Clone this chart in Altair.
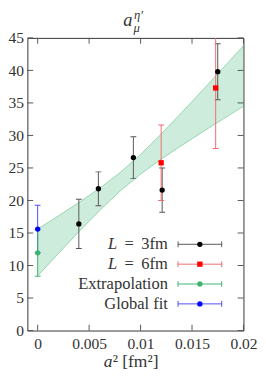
import altair as alt
import pandas as pd

# ---------------- data ----------------
x_L3 = [0.0040, 0.0059, 0.0093, 0.0121, 0.0175]
y_L3 = [16.4, 21.8, 26.6, 21.6, 39.8]
e_L3 = [3.8, 2.6, 3.2, 3.4, 4.3]

x_L6 = [0.0120, 0.0173]
y_L6 = [25.8, 37.3]
e_L6 = [5.8, 9.3]

x_ext = [0.0]
y_ext = [11.95]
e_ext = [3.6]

x_glob = [0.0]
y_glob = [15.6]
e_glob = [3.65]

band_x = [0.0, 0.002, 0.004, 0.006, 0.008, 0.010, 0.012, 0.014, 0.016, 0.018, 0.020]
band_lo = [8.4, 11.81, 15.18, 18.42, 21.44, 24.06, 26.35, 28.47, 30.51, 32.51, 34.49]
band_hi = [15.6, 17.61, 19.68, 21.86, 24.28, 27.08, 30.21, 33.53, 36.91, 40.35, 43.79]

x_ticks = [0, 0.005, 0.01, 0.015, 0.02]
y_ticks = [0, 5, 10, 15, 20, 25, 30, 35, 40, 45]

legend_labels = ["3fm", "6fm", "Extrapolation", "Global fit"]

# ---------------- layout ----------------
W, H = 223, 302
FONT = "Liberation Serif"
GREEN = "#3cb371"
TXT = "#333333"

xs = alt.Scale(domain=[-0.001, 0.02], nice=False, zero=False)
ys = alt.Scale(domain=[0, 45], nice=False, zero=False)
xaxis = alt.Axis(values=x_ticks, format="~g", title=None, grid=False, domain=False,
                 ticks=False, labelFlush=False, labelOverlap=False, labelPadding=6)
yaxis = alt.Axis(values=y_ticks, format="d", title=None, grid=False, domain=False,
                 ticks=False, labelFlush=False, labelOverlap=False, labelPadding=4)


def X(f):
    return alt.X(f, scale=xs, axis=xaxis)


def Y(f):
    return alt.Y(f, scale=ys, axis=yaxis)


def err_df(x, y, e):
    return pd.DataFrame({"x": x, "y": y, "lo": [a - b for a, b in zip(y, e)],
                         "hi": [a + b for a, b in zip(y, e)]})


def errbars(df, color, opacity=1.0):
    base = alt.Chart(df)
    r = base.mark_rule(color=color, strokeWidth=1, opacity=opacity, clip=True).encode(
        x=X("x:Q"), y=Y("lo:Q"), y2="hi:Q")
    c1 = base.mark_tick(color=color, orient="horizontal", size=6, thickness=1,
                        opacity=opacity, clip=True).encode(x=X("x:Q"), y=Y("lo:Q"))
    c2 = base.mark_tick(color=color, orient="horizontal", size=6, thickness=1,
                        opacity=opacity, clip=True).encode(x=X("x:Q"), y=Y("hi:Q"))
    return r + c1 + c2


def points(df, color, shape):
    return alt.Chart(df).mark_point(filled=True, color=color, shape=shape, size=30,
                                    opacity=1).encode(x=X("x:Q"), y=Y("y:Q"))


band_df = pd.DataFrame({"x": band_x, "lo": band_lo, "hi": band_hi})
band = alt.Chart(band_df).mark_area(color=GREEN, opacity=0.25).encode(
    x=X("x:Q"), y=Y("lo:Q"), y2="hi:Q")
band_lo_line = alt.Chart(band_df).mark_line(color=GREEN, strokeWidth=0.8, opacity=0.6).encode(
    x=X("x:Q"), y=Y("lo:Q"))
band_hi_line = alt.Chart(band_df).mark_line(color=GREEN, strokeWidth=0.8, opacity=0.6).encode(
    x=X("x:Q"), y=Y("hi:Q"))

d3 = err_df(x_L3, y_L3, e_L3)
d6 = err_df(x_L6, y_L6, e_L6)
de = err_df(x_ext, y_ext, e_ext)
dg = err_df(x_glob, y_glob, e_glob)

layers = [band, band_lo_line, band_hi_line,
          errbars(d3, "#555555"), errbars(d6, "#f06a6a"),
          errbars(dg, "#4a4aff"), errbars(de, GREEN),
          points(d3, "black", "circle"), points(d6, "red", "square"),
          points(dg, "blue", "circle"), points(de, GREEN, "circle")]

# inward ticks (mirror on all four sides)
xt = pd.DataFrame({"t": x_ticks})
yt = pd.DataFrame({"t": y_ticks})
TK = 6
TC = "#555555"
layers += [
    alt.Chart(xt).mark_rule(color=TC, strokeWidth=1).encode(
        x=X("t:Q"), y=alt.value(H), y2=alt.value(H - TK)),
    alt.Chart(xt).mark_rule(color=TC, strokeWidth=1).encode(
        x=X("t:Q"), y=alt.value(0), y2=alt.value(TK)),
    alt.Chart(yt).mark_rule(color=TC, strokeWidth=1).encode(
        y=Y("t:Q"), x=alt.value(0), x2=alt.value(TK)),
    alt.Chart(yt).mark_rule(color=TC, strokeWidth=1).encode(
        y=Y("t:Q"), x=alt.value(W - TK), x2=alt.value(W)),
]

# legend
leg_y = [213, 233.5, 254, 274.5]
leg_colors = ["#555555", "#f06a6a", GREEN, "#4a4aff"]
pt_colors = ["black", "red", GREEN, "blue"]
pt_shapes = ["circle", "square", "circle", "circle"]
L0, L1 = 155.5, 200.5
one = pd.DataFrame({"k": [0]})
for i, lab in enumerate(legend_labels):
    yy = leg_y[i]
    c = leg_colors[i]
    layers += [
        alt.Chart(one).mark_rule(color=c, strokeWidth=1).encode(
            x=alt.value(L0), x2=alt.value(L1), y=alt.value(yy)),
        alt.Chart(one).mark_rule(color=c, strokeWidth=1).encode(
            x=alt.value(L0), y=alt.value(yy - 3), y2=alt.value(yy + 3)),
        alt.Chart(one).mark_rule(color=c, strokeWidth=1).encode(
            x=alt.value(L1), y=alt.value(yy - 3), y2=alt.value(yy + 3)),
        alt.Chart(one).mark_point(filled=True, color=pt_colors[i], shape=pt_shapes[i],
                                  size=30, opacity=1).encode(
            x=alt.value((L0 + L1) / 2), y=alt.value(yy)),
        alt.Chart(one).mark_text(text=lab, font=FONT, fontSize=17, align="right",
                                 baseline="middle", color=TXT).encode(
            x=alt.value(145), y=alt.value(yy)),
    ]
    if i < 2:
        layers += [
            alt.Chart(one).mark_text(text="=", font=FONT, fontSize=17, align="center",
                                     baseline="middle", color=TXT).encode(
                x=alt.value(105), y=alt.value(yy)),
            alt.Chart(one).mark_text(text="L", font=FONT, fontSize=17, fontStyle="italic",
                                     align="center", baseline="middle",
                                     color=TXT).encode(
                x=alt.value(88), y=alt.value(yy)),
        ]

# x-axis title a^2 [fm^2]
layers += [
    alt.Chart(one).mark_text(text="a", font=FONT, fontSize=18, fontStyle="italic",
                             align="left", baseline="alphabetic", color=TXT).encode(
        x=alt.value(78.7), y=alt.value(339.5)),
    alt.Chart(one).mark_text(text="² [fm²]", font=FONT, fontSize=18, align="left",
                             baseline="alphabetic", color=TXT).encode(
        x=alt.value(88), y=alt.value(339.5)),
]

# chart title a_mu^{eta'}
layers += [
    alt.Chart(one).mark_text(text="a", font=FONT, fontSize=19, fontStyle="italic",
                             align="center", baseline="alphabetic", color=TXT).encode(
        x=alt.value(103.7), y=alt.value(-12)),
    alt.Chart(one).mark_text(text="η′", font=FONT, fontSize=13, fontStyle="italic",
                             align="left", baseline="alphabetic", color=TXT).encode(
        x=alt.value(110), y=alt.value(-19)),
    alt.Chart(one).mark_text(text="μ", font=FONT, fontSize=13, fontStyle="italic",
                             align="left", baseline="alphabetic", color=TXT).encode(
        x=alt.value(109.5), y=alt.value(-6)),
]

chart = alt.layer(*layers).properties(
    width=W, height=H,
    autosize=alt.AutoSizeParams(type="none"),
    padding={"left": 20, "top": 25, "right": 15, "bottom": 39},
).configure_view(stroke="#333333", strokeWidth=1).configure_axis(
    labelFont=FONT, labelFontSize=16, labelColor=TXT,
)

chart.save("out.html", embed_options={"renderer": "svg", "actions": False})
